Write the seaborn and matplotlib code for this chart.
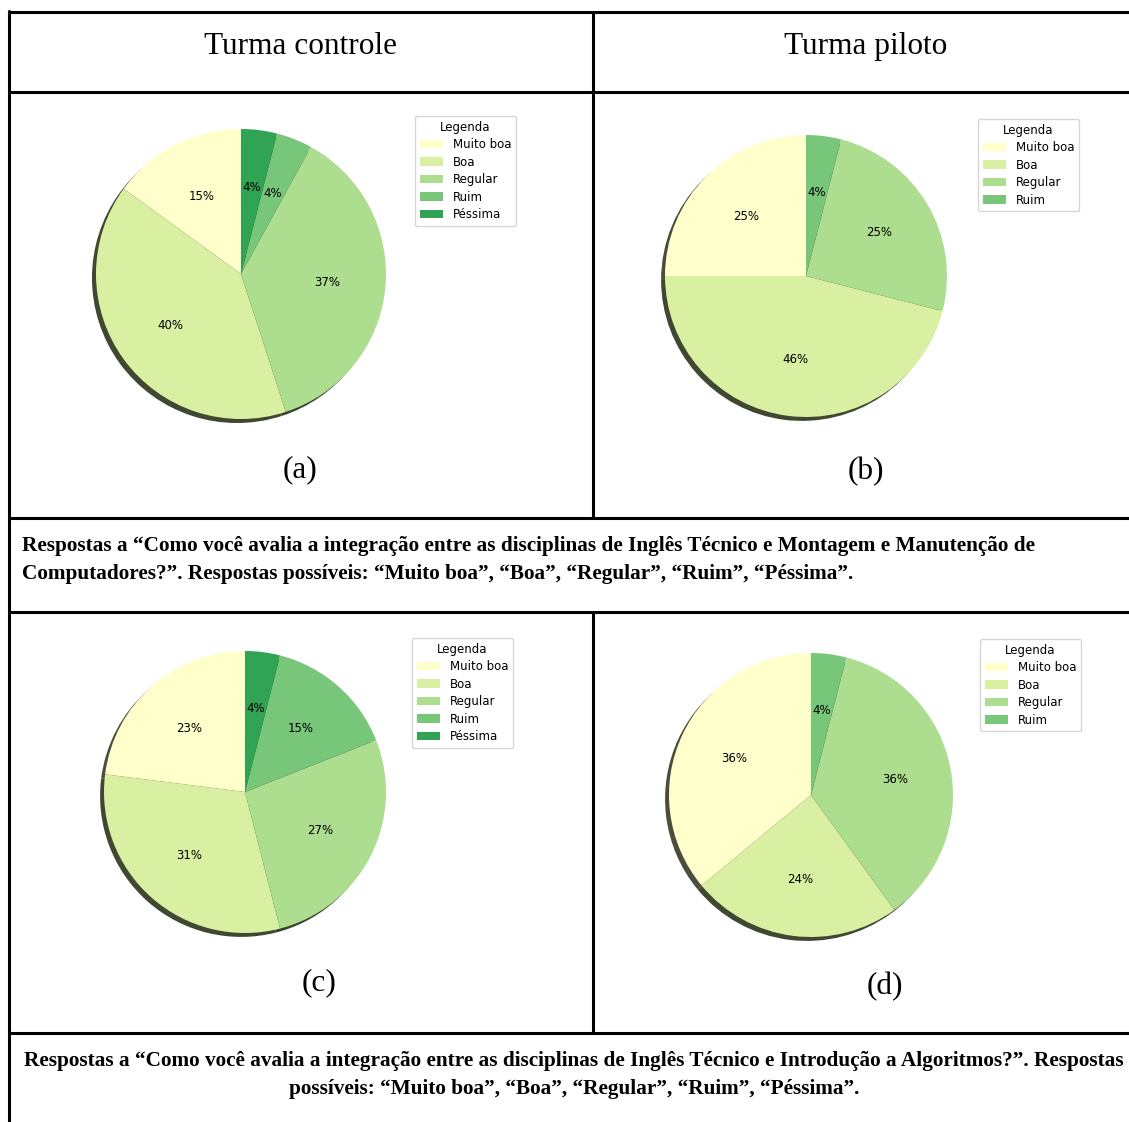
import matplotlib
matplotlib.use("Agg")
import matplotlib.pyplot as plt
import seaborn as sns

# categories and percentages
labels_5 = ['Muito boa', 'Boa', 'Regular', 'Ruim', 'Péssima']
labels_4 = ['Muito boa', 'Boa', 'Regular', 'Ruim']
controle_mmc = [15, 40, 37, 4, 4]
piloto_mmc = [25, 46, 25, 4]
controle_alg = [23, 31, 27, 15, 4]
piloto_alg = [36, 24, 36, 4]

headers = ['Turma controle', 'Turma piloto']
panel_tags = ['(a)', '(b)', '(c)', '(d)']
caption_1 = ('Respostas a “Como você avalia a integração entre as disciplinas de Inglês Técnico e Montagem e Manutenção de\n'
             'Computadores?”. Respostas possíveis: “Muito boa”, “Boa”, “Regular”, “Ruim”, “Péssima”.')
caption_2 = ('Respostas a “Como você avalia a integração entre as disciplinas de Inglês Técnico e Introdução a Algoritmos?”. Respostas\n'
             'possíveis: “Muito boa”, “Boa”, “Regular”, “Ruim”, “Péssima”.')

sns.set_style("white")
plt.rcParams['font.family'] = ['DejaVu Sans']
plt.rcParams['text.color'] = 'black'
palette = sns.color_palette(['#ffffcc', '#d9f0a3', '#addd8e', '#78c679', '#31a354'])

W, H = 1129, 1122
fig = plt.figure(figsize=(W / 100, H / 100), dpi=100)

# background axes in pixel units for the table frame and texts
bg = fig.add_axes([0, 0, 1, 1])
bg.set_xlim(0, W)
bg.set_ylim(H, 0)
bg.axis('off')

lw = 2.2
for y in [12, 92, 518, 612, 1033]:
    bg.plot([9, W], [y, y], color='black', lw=lw, solid_capstyle='butt')
bg.plot([9, 9], [11, H], color='black', lw=lw)
bg.plot([593, 593], [12, 518], color='black', lw=lw)
bg.plot([593, 593], [612, 1033], color='black', lw=lw)

serif = ['Liberation Serif', 'DejaVu Serif']
bg.text(300, 46, headers[0], ha='center', va='center', fontsize=22.5, family=serif)
bg.text(866, 46, headers[1], ha='center', va='center', fontsize=22.5, family=serif)

tag_pos = [(300, 470), (866, 472), (319, 983), (885, 987)]
for tag, (x, y) in zip(panel_tags, tag_pos):
    bg.text(x, y, tag, ha='center', va='center', fontsize=22.5, family=serif)

bg.text(22, 560, caption_1, ha='left', va='center', fontsize=15.3, family=serif,
        fontweight='bold', linespacing=1.48)
bg.text(574, 1075, caption_2, ha='center', va='center', fontsize=15.3, family=serif,
        fontweight='bold', linespacing=1.48)

# pie panels: (values, labels, center x, center y, radius px, legend x, legend y)
panels = [
    (controle_mmc, labels_5, 241, 274, 145, 415, 116),
    (piloto_mmc, labels_4, 806, 276, 141, 978, 119),
    (controle_alg, labels_5, 245, 792, 141, 412, 638),
    (piloto_alg, labels_4, 811, 795, 142, 980, 639),
]

for values, labels, cx, cy, r, lx, ly in panels:
    side = 2.5 * r
    ax = fig.add_axes([(cx - side / 2) / W, 1 - (cy + side / 2) / H, side / W, side / H])
    wedges, texts, autotexts = ax.pie(values, colors=palette[:len(values)], startangle=90,
                                      shadow={'ox': -0.02, 'oy': -0.02, 'alpha': 1.0},
                                      autopct='%1.0f%%',
                                      wedgeprops={'linewidth': 0},
                                      textprops={'fontsize': 8.5, 'color': 'black'})
    ax.set_xlim(-1.25, 1.25)
    ax.set_ylim(-1.25, 1.25)
    ax.set_aspect('equal')
    ax.legend(wedges, labels, title='Legenda', loc='upper left', fontsize=8.5,
              title_fontsize=8.5, labelspacing=0.38, bbox_to_anchor=(lx / W, 1 - ly / H),
              bbox_transform=fig.transFigure, borderaxespad=0)

fig.savefig('out.png', dpi=100)
